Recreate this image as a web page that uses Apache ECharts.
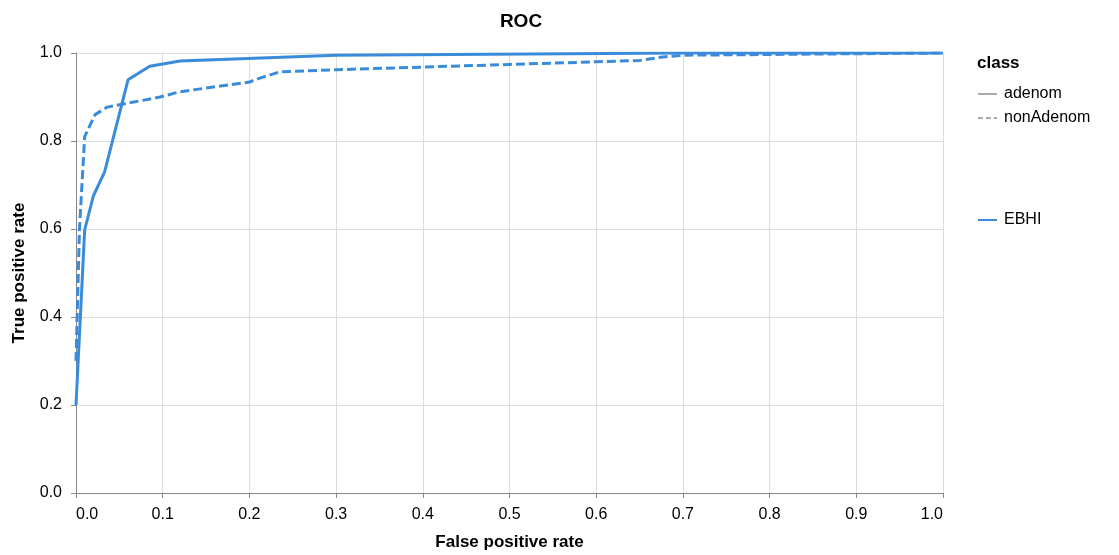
<!DOCTYPE html>
<html>
<head>
<meta charset="utf-8">
<script src="https://cdn.jsdelivr.net/npm/echarts@6/dist/echarts.min.js"></script>
<style>
  html, body { margin: 0; padding: 0; background: #fff; }
  #RocChart { width: 1119px; height: 555px; }
</style>
</head>
<body>
<div id="RocChart"></div>
<script>
// values
const modelName = 'EBHI'
const classNames = ['adenom', 'nonAdenom']
const xTicks = [0, 0.1, 0.2, 0.3, 0.4, 0.5, 0.6, 0.7, 0.8, 0.9, 1.0]
const yTicks = [0, 0.2, 0.4, 0.6, 0.8, 1.0]

// adenom (solid)
const adenomFpr = [0, 0.010, 0.020, 0.033, 0.060, 0.085, 0.120, 0.300, 0.700, 1.0]
const adenomTpr = [0.20, 0.598, 0.675, 0.730, 0.939, 0.970, 0.982, 0.995, 1.0, 1.0]

// nonAdenom (dashed)
const nonAdenomFpr = [0, 0.004, 0.010, 0.022, 0.036, 0.097, 0.120, 0.200, 0.212, 0.235, 0.300, 0.400, 0.500, 0.600, 0.650, 0.677, 0.700, 1.0]
const nonAdenomTpr = [0.30, 0.60, 0.810, 0.860, 0.877, 0.900, 0.912, 0.934, 0.943, 0.957, 0.962, 0.968, 0.974, 0.980, 0.983, 0.991, 0.995, 1.0]

const lineColor = '#3b8bdb'
const fontFamily = '"Liberation Sans", Helvetica, Arial, sans-serif'

const toPairs = (xs, ys) => xs.map((x, i) => [x, ys[i]])

const chart = echarts.init(document.getElementById('RocChart'))

const legendBase = {
  orient: 'vertical',
  left: 972,
  itemWidth: 19,
  itemHeight: 10,
  itemGap: 8,
  itemStyle: { opacity: 0 },
  textStyle: { fontSize: 16, color: '#000', fontFamily: fontFamily, padding: [0, 0, 0, 2] }
}

const option = {
  animation: false,
  textStyle: { fontFamily: fontFamily },
  title: [
    {
      text: 'ROC',
      left: 516,
      top: 7,
      textAlign: 'center',
      textStyle: { fontSize: 19, fontWeight: 'bold', color: '#000', fontFamily: fontFamily }
    },
    {
      text: 'class',
      left: 972,
      top: 50,
      textStyle: { fontSize: 17, fontWeight: 'bold', color: '#000', fontFamily: fontFamily }
    }
  ],
  legend: [
    Object.assign({}, legendBase, { data: classNames, top: 81 }),
    Object.assign({}, legendBase, { data: [modelName], top: 207 })
  ],
  grid: {
    left: 76,
    right: 176,
    top: 53,
    bottom: 62,
    containLabel: false,
    outerBoundsMode: 'none'
  },
  xAxis: {
    type: 'value',
    min: xTicks[0],
    max: xTicks[xTicks.length - 1],
    interval: 0.1,
    name: 'False positive rate',
    nameLocation: 'middle',
    nameGap: 41,
    nameTextStyle: { fontSize: 17, fontWeight: 'bold', color: '#000' },
    axisLine: { show: true, lineStyle: { color: '#888', width: 1 } },
    axisTick: { show: true, length: 5, lineStyle: { color: '#888' } },
    splitLine: { show: true, lineStyle: { color: '#ddd', width: 1 } },
    axisLabel: {
      fontSize: 16,
      color: '#000',
      margin: 14,
      alignMinLabel: 'left',
      alignMaxLabel: 'right',
      formatter: v => v.toFixed(1)
    }
  },
  yAxis: {
    type: 'value',
    min: yTicks[0],
    max: yTicks[yTicks.length - 1],
    interval: 0.2,
    name: 'True positive rate',
    nameLocation: 'middle',
    nameGap: 48,
    nameTextStyle: { fontSize: 17, fontWeight: 'bold', color: '#000' },
    axisLine: { show: true, lineStyle: { color: '#888', width: 1 } },
    axisTick: { show: true, length: 5, lineStyle: { color: '#888' } },
    splitLine: { show: true, lineStyle: { color: '#ddd', width: 1 } },
    axisLabel: {
      fontSize: 16,
      color: '#000',
      margin: 14,
      formatter: v => v.toFixed(1)
    }
  },
  series: [
    {
      name: modelName,
      type: 'line',
      symbol: 'none',
      color: lineColor,
      lineStyle: { color: lineColor, width: 3, type: 'solid' },
      data: toPairs(adenomFpr, adenomTpr)
    },
    {
      name: modelName,
      type: 'line',
      symbol: 'none',
      color: lineColor,
      lineStyle: { color: lineColor, width: 3, type: [9, 4] },
      data: toPairs(nonAdenomFpr, nonAdenomTpr)
    },
    // legend-only entries for the stroke-dash encoding
    {
      name: classNames[0],
      type: 'line',
      symbol: 'none',
      color: '#aaa',
      lineStyle: { color: '#aaa', width: 2, type: 'solid' },
      data: []
    },
    {
      name: classNames[1],
      type: 'line',
      symbol: 'none',
      color: '#aaa',
      lineStyle: { color: '#aaa', width: 2, type: [5, 3] },
      data: []
    }
  ]
}

chart.setOption(option)
</script>
</body>
</html>
